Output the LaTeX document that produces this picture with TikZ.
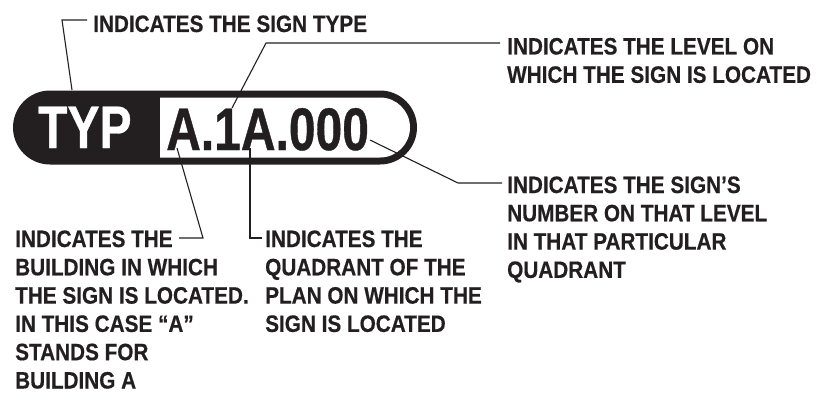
\documentclass[tikz,border=0pt]{standalone}
\usepackage{fontspec}
\newfontfamily\lblfont{Liberation Sans}[FakeStretch=0.875,FakeBold=0.5]
\newfontfamily\bigfont{Liberation Sans}[FakeStretch=0.8,FakeBold=0.6]
\definecolor{ink}{RGB}{35,31,32}
\begin{document}
\begin{tikzpicture}[x=1pt,y=1pt,
  lbl/.style={anchor=base west, inner sep=0pt, align=left, text=ink,
    font=\lblfont\bfseries\fontsize{23.7}{28.3}\selectfont},
  big/.style={anchor=base west, inner sep=0pt,
    font=\bigfont\bfseries\fontsize{60}{60}\selectfont},
  leader/.style={draw=ink, line width=1.1pt, line join=miter}]
\useasboundingbox (0,0) rectangle (817,400);
% sign pill
\fill[ink, rounded corners=37pt] (13,235.5) rectangle (417,309.5);
\fill[white] (160,302.5) -- (380,302.5) arc[start angle=90, end angle=-90, radius=30] -- (160,242.5) -- cycle;
\node[big, text=white] (typ) at (38,252) {TYP};
\node[big, text=ink] (code) at (166,250) {A.1A.000};
% labels (anchored at the baseline of their last line)
\node[lbl] (typelbl) at (93,368) {INDICATES THE SIGN TYPE};
\node[lbl] (levellbl) at (507,317.2) {INDICATES THE LEVEL ON\\WHICH THE SIGN IS LOCATED};
\node[lbl] (numlbl) at (507,122.1) {INDICATES THE SIGN’S\\NUMBER ON THAT LEVEL\\IN THAT PARTICULAR\\QUADRANT};
\node[lbl] (bldlbl) at (15,11.5) {INDICATES THE\\BUILDING IN WHICH\\THE SIGN IS LOCATED.\\IN THIS CASE “A”\\STANDS FOR\\BUILDING A};
\node[lbl] (quadlbl) at (265,68.1) {INDICATES THE\\QUADRANT OF THE\\PLAN ON WHICH THE\\SIGN IS LOCATED};
% leader points
\coordinate (t0) at (72,310);   \coordinate (t1) at (62,380);  \coordinate (t2) at (87,380);
\coordinate (l0) at (232,292);  \coordinate (l1) at (266,357); \coordinate (l2) at (500,357);
\coordinate (n0) at (370,260);  \coordinate (n1) at (458,217); \coordinate (n2) at (502,217);
\coordinate (b0) at (177,252);  \coordinate (b1) at (203,162); \coordinate (b2) at (179,162);
\coordinate (q0) at (250,252);  \coordinate (q1) at (250,162); \coordinate (q2) at (262,162);
\draw[leader] (t0) -- (t1) -- (t2);
\draw[leader] (l0) -- (l1) -- (l2);
\draw[leader] (n0) -- (n1) -- (n2);
\draw[leader] (b0) -- (b1) -- (b2);
\draw[leader] (q0) -- (q1) -- (q2);
\end{tikzpicture}
\end{document}
